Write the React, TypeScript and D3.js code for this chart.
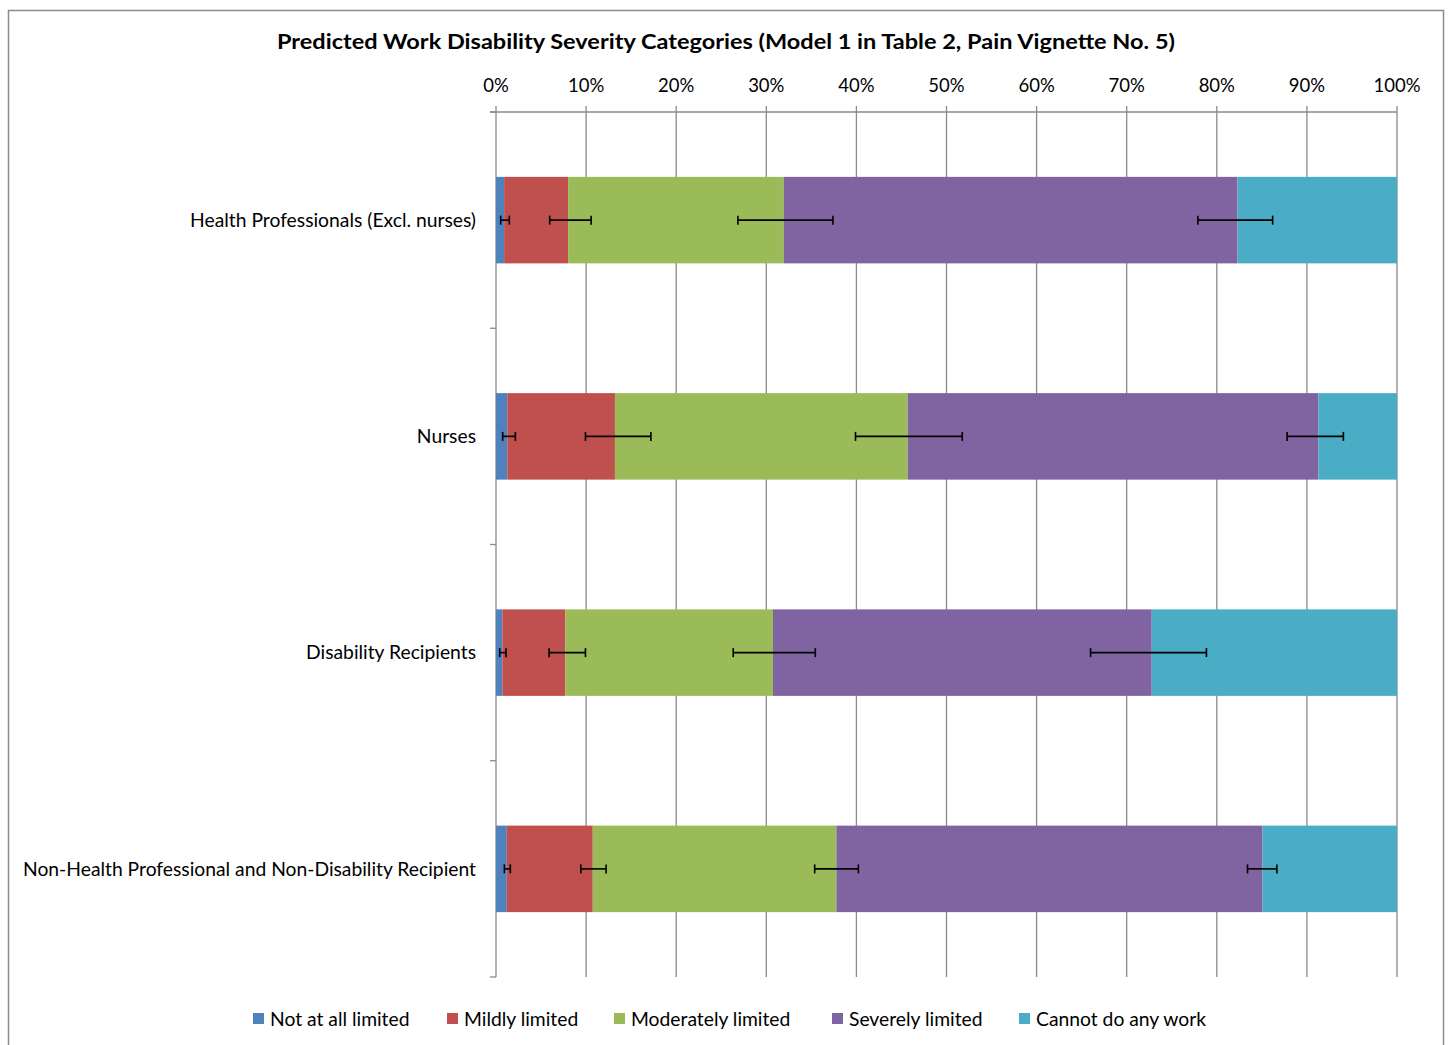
import React from 'react';
import * as d3 from 'd3';

const categories = [
  'Health Professionals (Excl. nurses)',
  'Nurses',
  'Disability Recipients',
  'Non-Health Professional and Non-Disability Recipient',
];

const seriesNames = [
  'Not at all limited',
  'Mildly limited',
  'Moderately limited',
  'Severely limited',
  'Cannot do any work',
];

const seriesColors = ['#4F81BD', '#C0504D', '#9BBB59', '#8064A2', '#4BACC6'];

// percent share of each category (per row)
const notAtAll = [0.9, 1.25, 0.7, 1.2];
const mildly = [7.1, 11.95, 7.0, 9.54];
const moderately = [23.95, 32.5, 23.04, 27.04];
const severely = [50.35, 45.57, 42.04, 47.3];
const cannotWork = [17.7, 8.73, 27.22, 14.92];

// confidence intervals on the cumulative value (low, high)
const notAtAllCI = [[0.52, 1.48], [0.74, 2.15], [0.41, 1.11], [0.93, 1.59]];
const mildlyCI = [[5.96, 10.56], [9.93, 17.19], [5.89, 9.93], [9.41, 12.22]];
const moderatelyCI = [[26.85, 37.4], [39.9, 51.75], [26.33, 35.44], [35.37, 40.22]];
const severelyCI = [[77.9, 86.2], [87.8, 94.05], [65.99, 78.85], [83.41, 86.67]];

const xTicks = [0, 10, 20, 30, 40, 50, 60, 70, 80, 90, 100];

const FONT = 'Lato, "Open Sans", sans-serif';

export default function App() {
  const width = 1448;
  const height = 1045;
  const margin = { top: 112, right: 51, bottom: 68, left: 496 };

  const x = d3.scaleLinear().domain([0, 100]).range([margin.left, width - margin.right]);
  const y = d3.scaleBand().domain(categories).range([margin.top, height - margin.bottom]).paddingInner(0.6).paddingOuter(0.3);
  const bandFull = d3.scaleBand().domain(categories).range([margin.top, height - margin.bottom]);

  const rows = categories.map((c, i) => ({
    cat: c,
    s0: notAtAll[i], s1: mildly[i], s2: moderately[i], s3: severely[i], s4: cannotWork[i],
  }));
  const stacked = d3.stack<any>().keys(['s0', 's1', 's2', 's3', 's4'])(rows);
  const cis = [notAtAllCI, mildlyCI, moderatelyCI, severelyCI];

  const gridColor = '#8a8a8a';
  const boundaries = [...categories.map((c) => bandFull(c)!), height - margin.bottom];

  const legendX = [253, 447, 614, 832, 1019];

  return (
    <svg width={width} height={height} style={{ position: 'absolute', left: 0, top: 0, background: '#fff' }} fontFamily={FONT}>
      <rect x={8.5} y={10.5} width={1435} height={1060} fill="#fff" stroke="#8c8c8c" strokeWidth={1.5} />
      <text x={277} y={49} fontWeight="bold" fontSize={21} fill="#000" textLength={898} lengthAdjust="spacingAndGlyphs">
        Predicted Work Disability Severity Categories (Model 1 in Table 2, Pain Vignette No. 5)
      </text>

      {/* gridlines and top axis */}
      {xTicks.map((t) => (
        <g key={t}>
          <line x1={x(t)} x2={x(t)} y1={margin.top - 6} y2={height - margin.bottom} stroke={gridColor} strokeWidth={1.3} />
          <text x={x(t)} y={92} textAnchor="middle" fontSize={18.5} fill="#000">{t}%</text>
        </g>
      ))}
      <line x1={margin.left - 6} x2={x(100)} y1={margin.top} y2={margin.top} stroke={gridColor} strokeWidth={1.3} />
      {boundaries.map((b, i) => (
        <line key={i} x1={margin.left - 6} x2={margin.left} y1={b} y2={b} stroke={gridColor} strokeWidth={1.3} />
      ))}

      {/* stacked bars */}
      {stacked.map((layer, si) => (
        <g key={si} fill={seriesColors[si]}>
          {layer.map((d, i) => (
            <rect key={i} x={x(d[0])} y={y(categories[i])} width={x(d[1]) - x(d[0])} height={y.bandwidth()} />
          ))}
        </g>
      ))}

      {/* error bars */}
      {cis.map((ci, si) => (
        <g key={si} stroke="#000" strokeWidth={1.6}>
          {ci.map((v, i) => {
            const cy = y(categories[i])! + y.bandwidth() / 2;
            return (
              <g key={i}>
                <line x1={x(v[0])} x2={x(v[1])} y1={cy} y2={cy} />
                <line x1={x(v[0])} x2={x(v[0])} y1={cy - 4.5} y2={cy + 4.5} />
                <line x1={x(v[1])} x2={x(v[1])} y1={cy - 4.5} y2={cy + 4.5} />
              </g>
            );
          })}
        </g>
      ))}

      {/* category labels */}
      {categories.map((c) => (
        <text key={c} x={476} y={bandFull(c)! + bandFull.bandwidth() / 2} dy="0.35em" textAnchor="end" fontSize={19.3} fill="#000">
          {c}
        </text>
      ))}

      {/* legend */}
      {seriesNames.map((n, i) => (
        <g key={n}>
          <rect x={legendX[i]} y={1013} width={11} height={11} fill={seriesColors[i]} />
          <text x={legendX[i] + 17} y={1019} dy="0.35em" fontSize={19.3} fill="#000">{n}</text>
        </g>
      ))}
    </svg>
  );
}
